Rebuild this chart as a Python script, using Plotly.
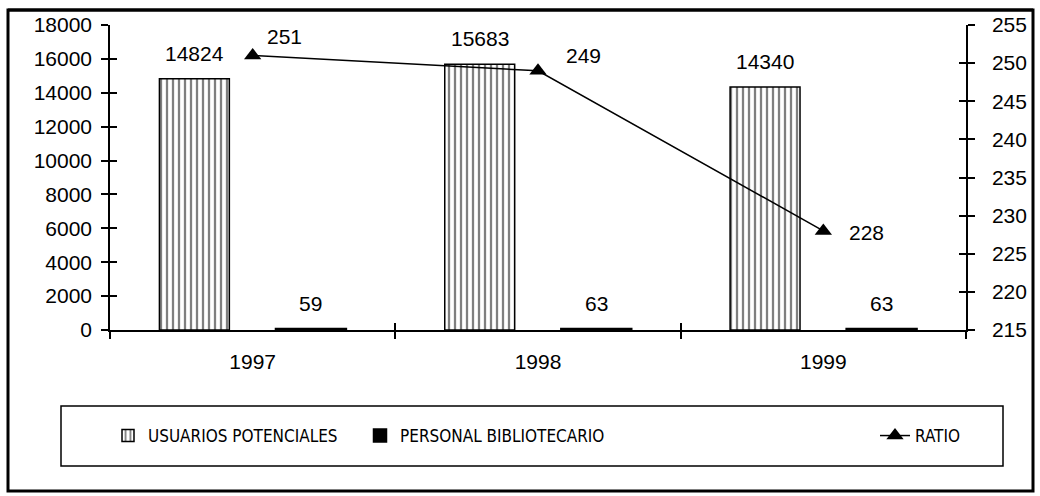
import plotly.graph_objects as go

years = ["1997", "1998", "1999"]
usuarios = [14824, 15683, 14340]
personal = [59, 63, 63]
ratio = [251, 249, 228]

# label offsets (px) for ratio labels: (xshift, yshift)
ratio_label_offset = [(12, 19), (26, 15), (24, -2)]

W, H = 1040, 496
L, R, T, B = 110, 966, 25, 330  # plot area in px


def px(xs):
    return (xs - L) / (R - L)


def py(ys):
    return (B - ys) / (B - T)


FONT = "Liberation Sans, Arial, sans-serif"
NARROW = "Liberation Sans Narrow, Arial Narrow, DejaVu Sans Condensed, sans-serif"
BARGAP = 0.183
GROUPGAP = 0.4
txtfont = dict(family=FONT, size=21, color="black")

fig = go.Figure()
fig.add_trace(go.Bar(
    x=years, y=usuarios, name="USUARIOS POTENCIALES",
    marker=dict(color="white", line=dict(color="black", width=1.5),
                pattern=dict(shape="|", fgcolor="black", bgcolor="white", size=6, solidity=0.38)),
    legend="legend",
))
fig.add_trace(go.Bar(
    x=years, y=personal, name="PERSONAL BIBLIOTECARIO",
    marker=dict(color="black", line=dict(color="black", width=2.5)),
    legend="legend2",
))
fig.add_trace(go.Scatter(
    x=years, y=ratio, name="RATIO", yaxis="y2", mode="lines+markers",
    line=dict(color="black", width=1.5),
    marker=dict(symbol="triangle-up", size=15, color="black"),
    cliponaxis=False,
    legend="legend3",
))
# invisible helpers so the overlay tick axes get drawn
fig.add_trace(go.Scatter(x=years, y=usuarios, xaxis="x2", yaxis="y3", mode="markers",
                         marker=dict(opacity=0), showlegend=False, hoverinfo="skip"))
fig.add_trace(go.Scatter(x=years, y=ratio, xaxis="x", yaxis="y4", mode="markers",
                         marker=dict(opacity=0), showlegend=False, hoverinfo="skip"))

slot = (1 - BARGAP) / 2
ann = []
for i, (u, p) in enumerate(zip(usuarios, personal)):
    ann.append(dict(x=i - slot / 2, y=u, xref="x", yref="y", text=str(u), showarrow=False,
                    yanchor="bottom", yshift=12, font=txtfont))
    ann.append(dict(x=i + slot / 2, y=p, xref="x", yref="y", text=str(p), showarrow=False,
                    yanchor="bottom", yshift=12, font=txtfont))
for i, (r, (dx, dy)) in enumerate(zip(ratio, ratio_label_offset)):
    ann.append(dict(x=i, y=r, xref="x", yref="y2", text=str(r), showarrow=False,
                    xanchor="left", yanchor="middle", xshift=dx, yshift=dy, font=txtfont))

shapes = [
    dict(type="rect", xref="paper", yref="paper", x0=px(8), x1=px(1033), y0=py(491), y1=py(10),
         line=dict(color="black", width=3), layer="above"),
    dict(type="line", xref="paper", yref="paper", x0=px(8), x1=px(1033), y0=py(10), y1=py(10),
         line=dict(color="black", width=3), layer="above"),
    dict(type="rect", xref="paper", yref="paper", x0=px(61), x1=px(1003), y0=py(466), y1=py(406),
         line=dict(color="black", width=1.5), layer="above"),
]

axfont = dict(family=FONT, size=21, color="black")
legfont = dict(family=NARROW, size=17, color="black")
leg_common = dict(orientation="h", yanchor="middle", y=py(436), xanchor="left",
                  bgcolor="rgba(0,0,0,0)", borderwidth=0, font=legfont)
tick_common = dict(tickwidth=1.5, tickcolor="black", ticklen=7, showgrid=False, zeroline=False)

fig.update_layout(
    width=W, height=H,
    margin=dict(l=L, r=W - R, t=T, b=H - B, pad=0, autoexpand=False),
    paper_bgcolor="white", plot_bgcolor="white",
    showlegend=True,
    barmode="group", bargap=BARGAP, bargroupgap=GROUPGAP,
    font=dict(family=FONT, size=21, color="black"),
    xaxis=dict(type="category", categoryarray=years, range=[-0.5, 2.5],
               showline=True, linecolor="black", linewidth=1.5,
               ticks="outside", tickson="boundaries",
               tickfont=axfont, ticklabelstandoff=12, **tick_common),
    xaxis2=dict(type="category", categoryarray=years, range=[-0.5, 2.5], overlaying="x",
                anchor="y", side="bottom", showline=False,
                ticks="inside", tickson="boundaries", showticklabels=False, **tick_common),
    yaxis=dict(range=[0, 18000], dtick=2000, tickformat="d", showline=True, linecolor="black",
               linewidth=1.5, ticks="outside", tickfont=axfont, ticklabelstandoff=5, **tick_common),
    yaxis2=dict(range=[215, 255], dtick=5, overlaying="y", side="right", anchor="x",
                showline=True, linecolor="black", linewidth=1.5,
                ticks="outside", tickfont=axfont, ticklabelstandoff=13, **tick_common),
    yaxis3=dict(range=[0, 18000], dtick=2000, overlaying="y", side="left", anchor="x",
                ticks="inside", showticklabels=False, showline=False, **tick_common),
    yaxis4=dict(range=[215, 255], dtick=5, overlaying="y", side="right", anchor="x",
                ticks="inside", showticklabels=False, showline=False, **tick_common),
    legend=dict(x=px(108), **leg_common),
    legend2=dict(x=px(360), **leg_common),
    legend3=dict(x=px(875), **leg_common),
    annotations=ann,
    shapes=shapes,
)

fig.write_html("out.html", config={"displayModeBar": False},
               post_script="document.body.style.margin='0px';")
